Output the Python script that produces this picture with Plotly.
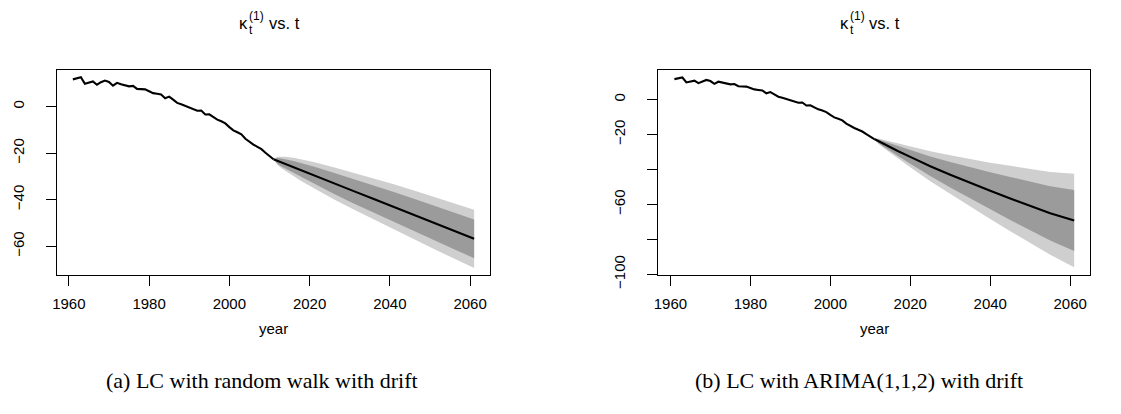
import plotly.graph_objects as go

# ---------------- data ----------------
years_hist = list(range(1961, 2012))
kappa_hist = [11.7, 12.0, 12.6, 9.8, 10.3, 10.8, 9.4, 10.5, 11.2, 10.6,
              9.0, 10.2, 9.6, 9.0, 8.7, 8.9, 7.6, 7.5, 7.4, 6.6,
              5.8, 5.5, 5.2, 3.6, 4.3, 3.0, 1.6, 1.0, 0.3, -0.4,
              -1.2, -1.8, -1.7, -3.4, -3.3, -4.6, -5.6, -6.3, -7.2, -8.8,
              -10.2, -11.0, -11.9, -13.8, -15.2, -16.3, -17.3, -18.3, -19.8, -21.3,
              -22.6]

# (a) random walk with drift forecast
fc_years_a = [2011, 2012, 2013, 2014, 2016, 2018, 2021, 2026, 2031, 2036, 2041, 2046, 2051, 2056, 2061]
center_a = [-22.6, -23.3, -24.0, -24.6, -26.0, -27.4, -29.4, -32.9, -36.3, -39.7, -43.1, -46.5, -50.0, -53.4, -56.8]
light_up_a = [-22.6, -21.5, -21.5, -21.5, -22.0, -22.7, -23.8, -26.0, -28.4, -30.9, -33.4, -36.0, -38.8, -41.5, -44.3]
light_lo_a = [-22.6, -25.1, -26.5, -27.7, -30.0, -32.1, -35.0, -39.8, -44.2, -48.5, -52.8, -57.0, -61.2, -65.3, -69.3]
dark_up_a = [-22.6, -22.1, -22.3, -22.6, -23.4, -24.3, -25.7, -28.4, -31.1, -33.8, -36.7, -39.6, -42.6, -45.5, -48.5]
dark_lo_a = [-22.6, -24.5, -25.7, -26.6, -28.6, -30.5, -33.1, -37.4, -41.6, -45.6, -49.5, -53.4, -57.4, -61.3, -65.1]

# (b) ARIMA(1,1,2) with drift forecast
fc_years_b = [2011, 2012, 2013, 2015, 2017, 2020, 2025, 2030, 2035, 2040, 2045, 2050, 2055, 2061]
center_b = [-22.6, -23.8, -25.0, -27.3, -29.6, -32.8, -38.2, -43.0, -47.7, -52.2, -56.6, -60.9, -65.1, -69.2]
light_up_b = [-22.6, -22.3, -22.8, -24.0, -25.2, -26.8, -29.6, -31.9, -34.1, -36.1, -37.9, -39.7, -41.4, -42.5]
light_lo_b = [-22.6, -25.3, -27.2, -30.6, -34.0, -38.8, -46.8, -54.1, -61.3, -68.3, -75.3, -82.1, -88.8, -95.9]
dark_up_b = [-22.6, -22.8, -23.6, -25.1, -26.7, -28.9, -32.6, -35.7, -38.8, -41.6, -44.3, -47.0, -49.6, -51.7]
dark_lo_b = [-22.6, -24.8, -26.4, -29.5, -32.5, -36.7, -43.8, -50.3, -56.6, -62.8, -68.9, -74.8, -80.6, -86.7]

x_tick_vals = [1960, 1980, 2000, 2020, 2040, 2060]
x_tick_text = ["1960", "1980", "2000", "2020", "2040", "2060"]
y_tick_vals_a = [0, -20, -40, -60]
y_tick_text_a = ["0", "\u221220", "\u221240", "\u221260"]
y_tick_vals_b = [0, -20, -40, -60, -80, -100]
y_tick_text_b = ["0", "\u221220", "", "\u221260", "", "\u2212100"]

title_main = "\u03ba"
title_sub = "t"
title_sup = "(1)"
title_rest = "vs. t"
x_label = "year"
caption_a = "(a) LC with random walk with drift"
caption_b = "(b) LC with ARIMA(1,1,2) with drift"

# ---------------- figure ----------------
W, H = 1121, 414
LIGHT = "#cfcfcf"
DARK = "#9b9b9b"
SANS = "Liberation Sans, Arial, Helvetica, sans-serif"
SERIF = "Liberation Serif, Times New Roman, serif"

fig = go.Figure()


def add_panel(xa, ya, fy, cen, lu, ll, du, dl):
    fig.add_trace(go.Scatter(x=fy, y=ll, mode="lines", line=dict(width=0, color=LIGHT),
                             xaxis=xa, yaxis=ya, showlegend=False, hoverinfo="skip"))
    fig.add_trace(go.Scatter(x=fy, y=lu, mode="lines", line=dict(width=0, color=LIGHT),
                             fill="tonexty", fillcolor=LIGHT,
                             xaxis=xa, yaxis=ya, showlegend=False, hoverinfo="skip"))
    fig.add_trace(go.Scatter(x=fy, y=dl, mode="lines", line=dict(width=0, color=DARK),
                             xaxis=xa, yaxis=ya, showlegend=False, hoverinfo="skip"))
    fig.add_trace(go.Scatter(x=fy, y=du, mode="lines", line=dict(width=0, color=DARK),
                             fill="tonexty", fillcolor=DARK,
                             xaxis=xa, yaxis=ya, showlegend=False, hoverinfo="skip"))
    fig.add_trace(go.Scatter(x=years_hist, y=kappa_hist, mode="lines",
                             line=dict(width=2.1, color="black"),
                             xaxis=xa, yaxis=ya, showlegend=False))
    fig.add_trace(go.Scatter(x=fy, y=cen, mode="lines",
                             line=dict(width=2.1, color="black"),
                             xaxis=xa, yaxis=ya, showlegend=False))


add_panel("x", "y", fc_years_a, center_a, light_up_a, light_lo_a, dark_up_a, dark_lo_a)
add_panel("x2", "y2", fc_years_b, center_b, light_up_b, light_lo_b, dark_up_b, dark_lo_b)

# pixel geometry
top_px, bot_px = 64, 276
ydom = [1 - bot_px / H, 1 - top_px / H]
xdom_a = [44.0 / W, 479.3 / W]
xdom_b = [648.3 / W, 1082.0 / W]

common_x = dict(showline=True, mirror=True, linecolor="black", linewidth=1,
                ticks="outside", ticklen=10, tickwidth=1, tickcolor="black",
                tickvals=x_tick_vals, ticktext=x_tick_text,
                tickfont=dict(family=SANS, size=15, color="black"),
                showgrid=False, zeroline=False, ticklabelstandoff=5)
common_y = dict(showline=True, mirror=True, linecolor="black", linewidth=1,
                ticks="outside", ticklen=10, tickwidth=1, tickcolor="black",
                tickangle=-90,
                tickfont=dict(family=SANS, size=15, color="black"),
                showgrid=False, zeroline=False, ticklabelstandoff=16)

fig.update_layout(
    width=W, height=H,
    margin=dict(l=0, r=0, t=0, b=0),
    paper_bgcolor="white", plot_bgcolor="white",
    xaxis=dict(domain=xdom_a, range=[1957, 2065], anchor="y", **common_x),
    yaxis=dict(domain=ydom, range=[-72.2, 15.8], anchor="x",
               tickvals=y_tick_vals_a, ticktext=y_tick_text_a, **common_y),
    xaxis2=dict(domain=xdom_b, range=[1957, 2065], anchor="y2", **common_x),
    yaxis2=dict(domain=ydom, range=[-100.2, 17.0], anchor="x2",
                tickvals=y_tick_vals_b, ticktext=y_tick_text_b, **common_y),
)


def py(px):
    return 1 - px / H


def pxx(px):
    return px / W


anns = []
for cx, cap, capx in [((xdom_a[0] + xdom_a[1]) / 2 * W, caption_a, 250),
                      ((xdom_b[0] + xdom_b[1]) / 2 * W, caption_b, 850)]:
    tx = cx - 6
    # title pieces
    anns.append(dict(text=title_main, x=pxx(tx - 24), y=py(16), xanchor="center", yanchor="middle",
                     font=dict(family=SANS, size=16.5, color="black")))
    anns.append(dict(text=title_sub, x=pxx(tx - 19.5), y=py(23), xanchor="left", yanchor="middle",
                     font=dict(family=SANS, size=12, color="black")))
    anns.append(dict(text=title_sup, x=pxx(tx - 19.5), y=py(8), xanchor="left", yanchor="middle",
                     font=dict(family=SANS, size=12, color="black")))
    anns.append(dict(text=title_rest, x=pxx(tx), y=py(16), xanchor="left", yanchor="middle",
                     font=dict(family=SANS, size=16.5, color="black")))
    # x label
    anns.append(dict(text=x_label, x=pxx(cx), y=py(332), xanchor="center", yanchor="middle",
                     font=dict(family=SANS, size=15, color="black")))
    # caption
    anns.append(dict(text=cap, x=pxx(capx), y=py(386), xanchor="center", yanchor="middle",
                     font=dict(family=SERIF, size=22, color="black")))

for a in anns:
    a.update(xref="paper", yref="paper", showarrow=False, borderpad=0)
fig.update_layout(annotations=anns)

fig.write_html("out.html")
